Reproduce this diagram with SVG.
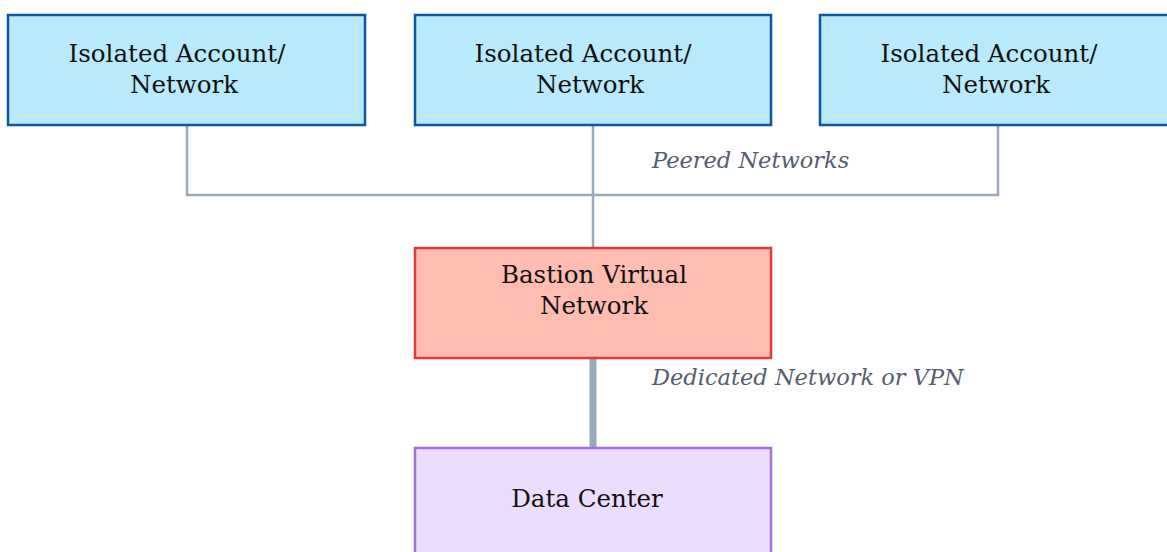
<svg xmlns="http://www.w3.org/2000/svg" width="1167" height="552" viewBox="0 0 1167 552">
<style>
.acct rect{fill:#b8eafc;stroke:#0b57a4;stroke-width:2.5}
.t{font-family:"DejaVu Serif",serif;font-size:24.5px;fill:#111}
.lbl{font-family:"DejaVu Serif",serif;font-size:22.5px;font-style:italic;fill:#555d6e}
.c{fill:none;stroke:#98a9ba;stroke-width:2.5}
</style>
<rect width="1167" height="552" fill="#fff"/>
<g id="connectors">
<path class="c" d="M187 125V195H998V125M593 125V248"/>
<path d="M593 358V448" stroke="#98a9ba" stroke-width="7" fill="none"/>
<text class="lbl" x="652" y="168">Peered Networks</text>
<text class="lbl" x="652" y="385">Dedicated Network or VPN</text>
</g>
<g id="acct1" class="acct"><rect x="8" y="15" width="357" height="110"/>
<text class="t" x="177" y="62" text-anchor="middle">Isolated Account/</text>
<text class="t" x="184" y="93" text-anchor="middle">Network</text></g>
<g id="acct2" class="acct"><rect x="415" y="15" width="356" height="110"/>
<text class="t" x="583" y="62" text-anchor="middle">Isolated Account/</text>
<text class="t" x="590" y="93" text-anchor="middle">Network</text></g>
<g id="acct3" class="acct"><rect x="820" y="15" width="357" height="110"/>
<text class="t" x="989" y="62" text-anchor="middle">Isolated Account/</text>
<text class="t" x="996" y="93" text-anchor="middle">Network</text></g>
<g id="bastion"><rect x="415" y="248" width="356" height="110" fill="#ffbcb0" stroke="#e5383b" stroke-width="2.5"/>
<text class="t" x="594" y="283" text-anchor="middle">Bastion Virtual</text>
<text class="t" x="594" y="314" text-anchor="middle">Network</text></g>
<g id="datacenter"><rect x="415" y="448" width="356" height="120" fill="#ecdcfd" stroke="#a070e0" stroke-width="2.5"/>
<text class="t" x="587" y="507" text-anchor="middle">Data Center</text></g>
</svg>
